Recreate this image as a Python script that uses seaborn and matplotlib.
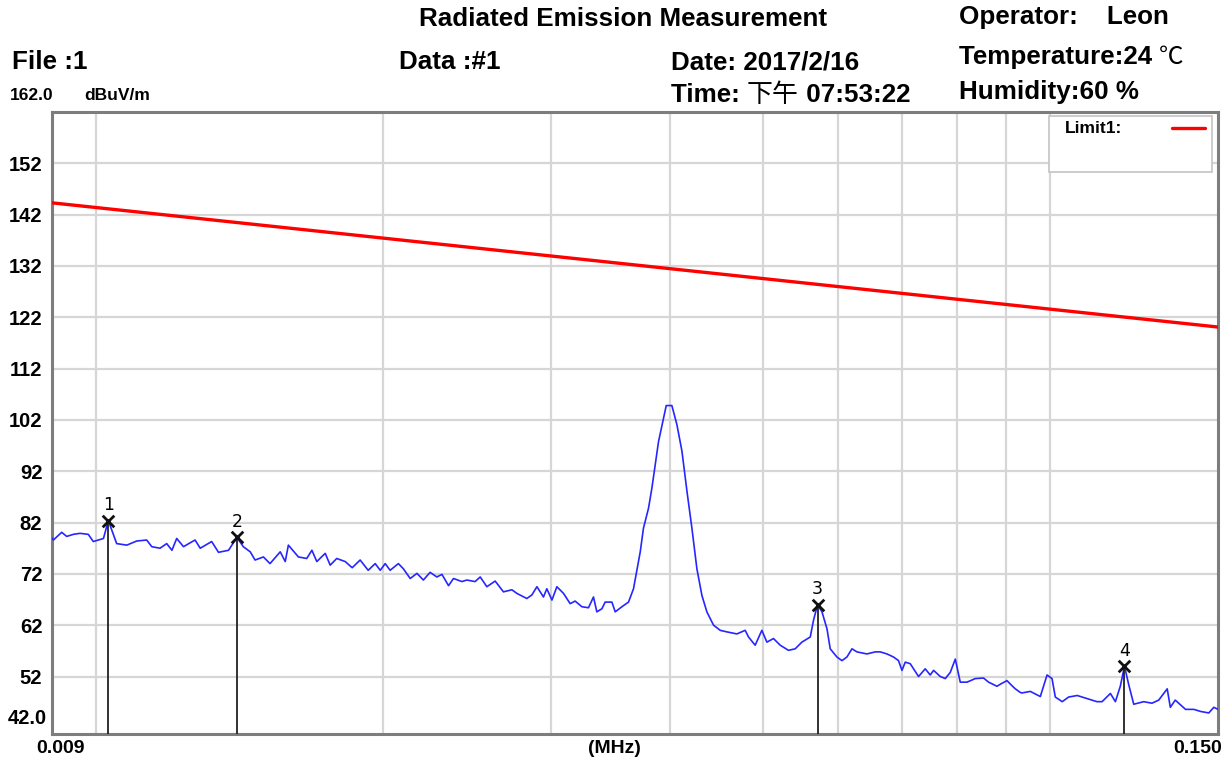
import pandas as pd
import matplotlib
matplotlib.use("Agg")
import matplotlib.pyplot as plt
import seaborn as sns
from matplotlib.patches import Rectangle
from matplotlib.lines import Line2D
from matplotlib.ticker import NullFormatter

# trace: frequency (MHz) / level (dBuV/m)
freq_mhz = [
    0.009, 0.00903, 0.009213, 0.009325, 0.009475, 0.009629, 0.009824, 0.009943,
    0.01019, 0.01031, 0.01052, 0.01078, 0.01104, 0.01131, 0.01145, 0.01168,
    0.01187, 0.01202, 0.01216, 0.01236, 0.01271, 0.01287, 0.01323, 0.01345,
    0.01378, 0.01406, 0.01428, 0.01452, 0.01469, 0.01499, 0.01523, 0.01561,
    0.0158, 0.01592, 0.01631, 0.01664, 0.01685, 0.01705, 0.0174, 0.01761,
    0.01789, 0.01826, 0.01857, 0.01893, 0.0193, 0.01963, 0.01987, 0.02011,
    0.02035, 0.02076, 0.02101, 0.02136, 0.02171, 0.02205, 0.02241, 0.02278,
    0.02306, 0.02343, 0.02371, 0.0242, 0.02449, 0.02498, 0.02529, 0.0257,
    0.02622, 0.02675, 0.0273, 0.02763, 0.0283, 0.02865, 0.029, 0.02946,
    0.0297, 0.03007, 0.03043, 0.03092, 0.03142, 0.0318, 0.03232, 0.03284,
    0.03324, 0.03351, 0.03392, 0.03419, 0.03475, 0.03503, 0.0356, 0.03617,
    0.03661, 0.03691, 0.03721, 0.0375, 0.03796, 0.03827, 0.03858, 0.03889,
    0.0393, 0.03962, 0.04016, 0.04065, 0.04115, 0.04165, 0.04215, 0.04266,
    0.04318, 0.0437, 0.04441, 0.04513, 0.04586, 0.04698, 0.04793, 0.04832,
    0.0491, 0.0499, 0.05051, 0.05132, 0.05216, 0.05321, 0.05408, 0.05496,
    0.05608, 0.05653, 0.05708, 0.05769, 0.05839, 0.05885, 0.05981, 0.06054,
    0.06127, 0.06202, 0.06277, 0.0643, 0.0656, 0.0664, 0.06748, 0.06856,
    0.06939, 0.06997, 0.07053, 0.07138, 0.07283, 0.07401, 0.07491, 0.07552,
    0.07675, 0.07768, 0.07862, 0.07958, 0.08054, 0.08186, 0.08351, 0.0852,
    0.08624, 0.088, 0.08871, 0.09015, 0.09125, 0.09198, 0.09309, 0.09348,
    0.09537, 0.0977, 0.0993, 0.1005, 0.1013, 0.103, 0.1046, 0.1068,
    0.1094, 0.112, 0.1134, 0.1157, 0.1171, 0.1185, 0.1197, 0.1209,
    0.1224, 0.1254, 0.1279, 0.13, 0.1327, 0.1337, 0.1353, 0.1387,
    0.1415, 0.1438, 0.1467, 0.1485, 0.15,
]
level_dbuv = [
    79.0, 78.6, 80.1, 79.3, 79.7, 79.9, 79.7, 78.3,
    78.9, 82.4, 77.9, 77.6, 78.4, 78.6, 77.3, 77.0,
    77.9, 76.6, 78.9, 77.3, 78.6, 77.0, 78.3, 76.2,
    76.6, 79.1, 77.3, 76.3, 74.7, 75.3, 74.0, 76.3,
    74.4, 77.6, 75.3, 75.0, 76.6, 74.4, 76.0, 73.7,
    75.0, 74.4, 73.2, 74.7, 72.7, 74.0, 72.7, 74.0,
    72.7, 74.0, 73.0, 71.1, 72.1, 70.8, 72.3, 71.4,
    71.9, 69.7, 71.1, 70.5, 70.8, 70.5, 71.4, 69.5,
    70.6, 68.5, 68.9, 68.2, 67.2, 67.9, 69.5, 67.5,
    69.1, 66.9, 69.5, 68.2, 66.2, 66.7, 65.6, 65.4,
    67.5, 64.6, 65.2, 66.5, 66.5, 64.6, 65.6, 66.5,
    69.1, 72.7, 76.3, 80.9, 84.8, 88.7, 93.3, 97.8,
    101.8, 104.8, 104.8, 101.1, 95.9, 88.1, 80.9, 73.0,
    67.8, 64.6, 62.0, 61.0, 60.7, 60.3, 61.0, 59.7,
    58.1, 61.0, 58.7, 59.4, 58.1, 57.1, 57.4, 58.7,
    59.7, 63.0, 66.0, 64.6, 61.3, 57.4, 55.8, 55.1,
    55.8, 57.4, 56.8, 56.4, 56.8, 56.8, 56.4, 55.8,
    55.1, 53.2, 54.8, 54.5, 52.0, 53.5, 52.3, 53.2,
    52.0, 51.6, 52.8, 55.4, 50.9, 50.9, 51.6, 51.7,
    50.9, 50.1, 50.5, 51.2, 50.2, 49.6, 48.9, 48.8,
    49.1, 48.1, 52.3, 51.6, 48.0, 47.1, 48.0, 48.3,
    47.7, 47.1, 47.1, 48.7, 47.1, 50.1, 54.0, 50.5,
    46.6, 47.1, 46.8, 47.4, 49.6, 46.0, 47.4, 45.6,
    45.6, 45.2, 44.9, 46.0, 45.6,
]

limit_freq = [0.009, 0.150]
limit_level = [144.3, 120.1]

marker_no = ["1", "2", "3", "4"]
marker_freq = [0.01031, 0.01406, 0.05708, 0.1197]
marker_level = [82.4, 79.1, 66.0, 54.0]

y_ticks = [52, 62, 72, 82, 92, 102, 112, 122, 132, 142, 152]
x_grid = [0.01, 0.02, 0.03, 0.04, 0.05, 0.06, 0.07, 0.08, 0.09, 0.1]
y_min, y_max = 40.8, 162.0

sns.set_style("white")
plt.rcParams["font.family"] = ["Liberation Sans", "Noto Sans CJK SC", "DejaVu Sans"]
plt.rcParams["text.color"] = "black"
plt.rcParams["ytick.color"] = "black"

W, H = 1225, 760
fig = plt.figure(figsize=(W / 100, H / 100), dpi=100)
ax = fig.add_axes([52 / W, 1 - 734 / H, (1218 - 52) / W, (734 - 112) / H])

trace = pd.DataFrame({"freq": freq_mhz, "level": level_dbuv})
limit = pd.DataFrame({"freq": limit_freq, "level": limit_level})
sns.lineplot(data=limit, x="freq", y="level", ax=ax, color="#ff0000", lw=2.4,
             estimator=None, sort=False, zorder=3)
sns.lineplot(data=trace, x="freq", y="level", ax=ax, color="#2626ff", lw=1.2,
             estimator=None, sort=False, zorder=4)

# marker needles
ax.vlines(marker_freq, y_min, marker_level, color="#222222", lw=1.3, zorder=5)
sns.scatterplot(x=marker_freq, y=marker_level, ax=ax, marker="x", color="#111111",
                s=70, linewidth=2, zorder=6)
for no, f, lv in zip(marker_no, marker_freq, marker_level):
    ax.annotate(no, (f, lv), xytext=(0, 11), textcoords="offset points",
                ha="center", va="center", fontsize=12.5, family="DejaVu Sans", zorder=6)

ax.set_xscale("log")
ax.set_xlim(limit_freq[0], limit_freq[-1])
ax.set_ylim(y_min, y_max)
ax.set_xticks(x_grid, minor=True)
ax.xaxis.set_minor_formatter(NullFormatter())
ax.set_xticks([])
ax.set_yticks(y_ticks)
ax.set_yticklabels([str(t) for t in y_ticks], fontsize=14.5, fontweight="bold")
ax.tick_params(axis="both", which="both", length=0)
ax.tick_params(axis="y", pad=7)
ax.set_xlabel("")
ax.set_ylabel("")
ax.grid(False)
ax.xaxis.grid(True, which="minor", color="#d6d6d6", lw=1.6, zorder=0)
ax.yaxis.grid(True, which="major", color="#d6d6d6", lw=1.6, zorder=0)
ax.set_axisbelow(True)
for s in ax.spines.values():
    s.set_color("#7d7d7d")
    s.set_linewidth(2.2)

# axis end labels
ax.text(-0.0045, 42, "42.0", transform=ax.get_yaxis_transform(), ha="right",
        va="bottom", fontsize=14.5, fontweight="bold")
ax.text(0.007, -0.024, "0.009", transform=ax.transAxes, ha="center", va="center",
        fontsize=14, fontweight="bold")
ax.text(1.0034, -0.024, "0.150", transform=ax.transAxes, ha="right", va="center",
        fontsize=14, fontweight="bold")
ax.text(0.482, -0.024, "(MHz)", transform=ax.transAxes, ha="center", va="center",
        fontsize=14, fontweight="bold")

# legend box
ax.add_patch(Rectangle((0.855, 0.9035), 0.14, 0.09, transform=ax.transAxes,
                       facecolor="white", edgecolor="#c4c4c4", lw=1.2, zorder=7))
ax.text(0.869, 0.974, "Limit1:", transform=ax.transAxes, ha="left", va="center",
        fontsize=12.5, fontweight="bold", zorder=8)
ax.add_line(Line2D([0.9605, 0.989], [0.974, 0.974], transform=ax.transAxes,
                   color="#ff0000", lw=2.4, zorder=8))

# header block
HEAD = 18.7


def head(x, y, s, size=HEAD):
    return fig.text(x / W, 1 - y / H, s, ha="left", va="center", fontsize=size,
                    fontweight="bold")


head(419, 19, "Radiated Emission Measurement")
head(12, 62, "File :1")
head(399, 62, "Data :#1")
head(671, 62, "Date: 2017/2/16")
t_time = head(671, 95, "Time: ")
# CJK part in regular weight, chained after the previous piece
t_cjk = plt.annotate("下午", xy=(1, 0.5), xycoords=t_time, ha="left", va="center",
                     fontsize=HEAD, family=["Noto Sans CJK SC"], annotation_clip=False)
plt.annotate(" 07:53:22", xy=(1, 0.5), xycoords=t_cjk, ha="left", va="center",
             fontsize=HEAD, fontweight="bold", annotation_clip=False)
head(959, 17, "Operator:    Leon")
t_temp = head(959, 57, "Temperature:24 ")
plt.annotate("℃", xy=(1, 0.5), xycoords=t_temp, ha="left", va="center",
             fontsize=HEAD - 1, family=["Noto Sans CJK SC"], fontweight="light",
             annotation_clip=False)
head(959, 92, "Humidity:60 %")
fig.text(10 / W, 1 - 95 / H, "162.0", ha="left", va="center", fontsize=12.5,
         fontweight="bold")
fig.text(84 / W, 1 - 95 / H, "dBuV/m", ha="left", va="center", fontsize=12.5,
         fontweight="bold")

fig.savefig("out.png", dpi=100)
